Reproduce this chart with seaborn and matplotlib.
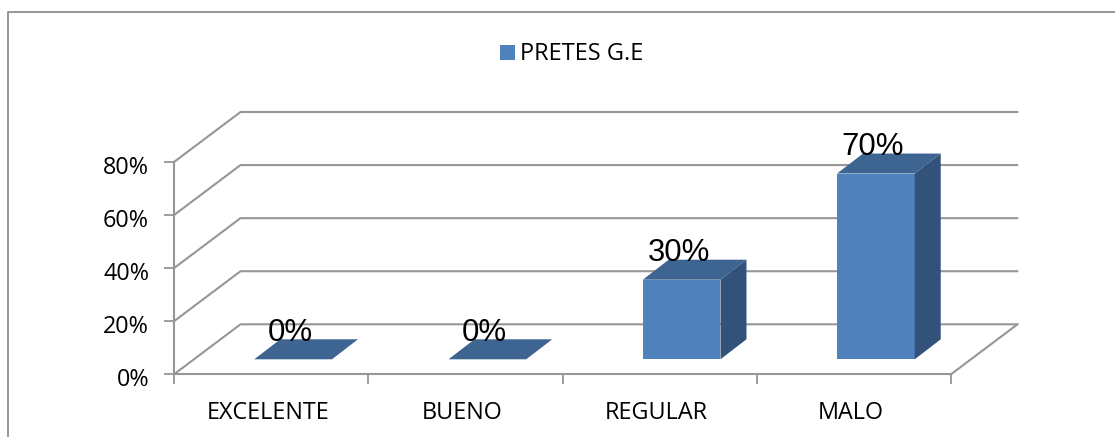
import pandas as pd
import seaborn as sns
import matplotlib.pyplot as plt
from matplotlib.patches import Polygon, Rectangle
from matplotlib.transforms import ScaledTranslation

categorias = ["EXCELENTE", "BUENO", "REGULAR", "MALO"]
valores = [0, 0, 30, 70]
etiquetas = ["0%", "0%", "30%", "70%"]
ticks_y = [0, 20, 40, 60, 80]
serie = "PRETES G.E"

W, H = 1115, 437
AZUL = "#4f81bd"
AZUL_TOP = "#3e6592"
AZUL_LADO = "#32527a"
GRIS = "#969696"

sns.set_theme(style="white")
plt.rcParams["font.family"] = ["Open Sans", "DejaVu Sans"]


def caja(x0, y_top, x1, y_bottom):
    # pixel box (origin top-left) to figure fraction
    return [x0 / W, 1 - y_bottom / H, (x1 - x0) / W, (y_bottom - y_top) / H]


fig = plt.figure(figsize=(W / 100, H / 100), dpi=100)

# chart frame: only left and top show in the crop
fig.add_artist(plt.Line2D([8 / W, 8 / W, 1], [0, 1 - 11.5 / H, 1 - 11.5 / H],
                          color=GRIS, lw=1.4))

# main axes is the front plane of the 3D box
ax = fig.add_axes(caja(174, 162, 951, 374.3))
ax.patch.set_alpha(0)
ax.set_xlim(0, len(categorias))
ax.set_ylim(0, 80)
sns.despine(ax=ax, top=True, right=True)
for s in ["left", "bottom"]:
    ax.spines[s].set_color(GRIS)
    ax.spines[s].set_linewidth(1.5)

sx = len(categorias) / 777
sy = 80 / 212.3
fondo_x, fondo_y = 66.5 * sx, 50 * sy

# gridlines run along the side wall and back wall
for t in ticks_y:
    ax.plot([0, fondo_x, len(categorias) + fondo_x],
            [t, t + fondo_y, t + fondo_y],
            color=GRIS, lw=1.5, clip_on=False, zorder=1)
ax.plot([len(categorias), len(categorias) + fondo_x], [0, fondo_y],
        color=GRIS, lw=1.5, clip_on=False, zorder=1)

ax.set_xticks(range(len(categorias) + 1))
ax.set_xticklabels([""] * (len(categorias) + 1))
ax.set_yticks(ticks_y)
ax.set_yticklabels([f"{t}%" for t in ticks_y], fontsize=16.8, color="black")
ax.tick_params(axis="both", length=7, width=1.3, color=GRIS, direction="out",
               bottom=True, left=True, pad=11)
baja = ScaledTranslation(0, -2 / 72, fig.dpi_scale_trans)
for lab in ax.get_yticklabels():
    lab.set_transform(lab.get_transform() + baja)
for i, c in enumerate(categorias):
    ax.annotate(c, (i + 0.5, 0), xytext=(-2.5, -28), textcoords="offset points",
                ha="center", va="center", fontsize=16.8, color="black")

# bars live on a plane pushed back inside the box
dx_bar, dy_bar = 22, 15
ax_bar = fig.add_axes(caja(174 + dx_bar, 162 - dy_bar, 951 + dx_bar, 374.3 - dy_bar))
ax_bar.patch.set_alpha(0)
df = pd.DataFrame({"categoria": categorias, "valor": valores})
sns.barplot(data=df, x="categoria", y="valor", color=AZUL, saturation=1,
            width=0.4, linewidth=0, ax=ax_bar, zorder=3)
ax_bar.set_xlim(-0.5, len(categorias) - 0.5)
ax_bar.set_ylim(0, 80)
ax_bar.axis("off")

prof_x, prof_y = 26 * sx, 20 * sy
for barra, etiqueta in zip(ax_bar.patches, etiquetas):
    x0, x1 = barra.get_x(), barra.get_x() + barra.get_width()
    v = barra.get_height()
    ax_bar.add_patch(Polygon([(x0, v), (x1, v), (x1 + prof_x, v + prof_y), (x0 + prof_x, v + prof_y)],
                             closed=True, fc=AZUL_TOP, ec="none", clip_on=False, zorder=4))
    if v > 0:
        ax_bar.add_patch(Polygon([(x1, 0), (x1 + prof_x, prof_y), (x1 + prof_x, v + prof_y), (x1, v)],
                                 closed=True, fc=AZUL_LADO, ec="none", clip_on=False, zorder=4))
    ax_bar.annotate(etiqueta, ((x0 + x1) / 2, v + prof_y), xytext=(-2, 4.5),
                    textcoords="offset points", ha="center", va="center",
                    fontsize=22.4, color="black",
                    family=["Liberation Sans", "DejaVu Sans"], zorder=5,
                    annotation_clip=False)

# legend
ley = fig.legend(handles=[Rectangle((0, 0), 1, 1, fc=AZUL, ec="none", label=serie)],
                 loc="center", bbox_to_anchor=(572 / W, 1 - 54.5 / H), frameon=False,
                 fontsize=17, handlelength=0.6, handleheight=0.6, handletextpad=0.25)
for t in ley.get_texts():
    t.set_color("black")

fig.savefig("out.png", dpi=100, facecolor="white")
